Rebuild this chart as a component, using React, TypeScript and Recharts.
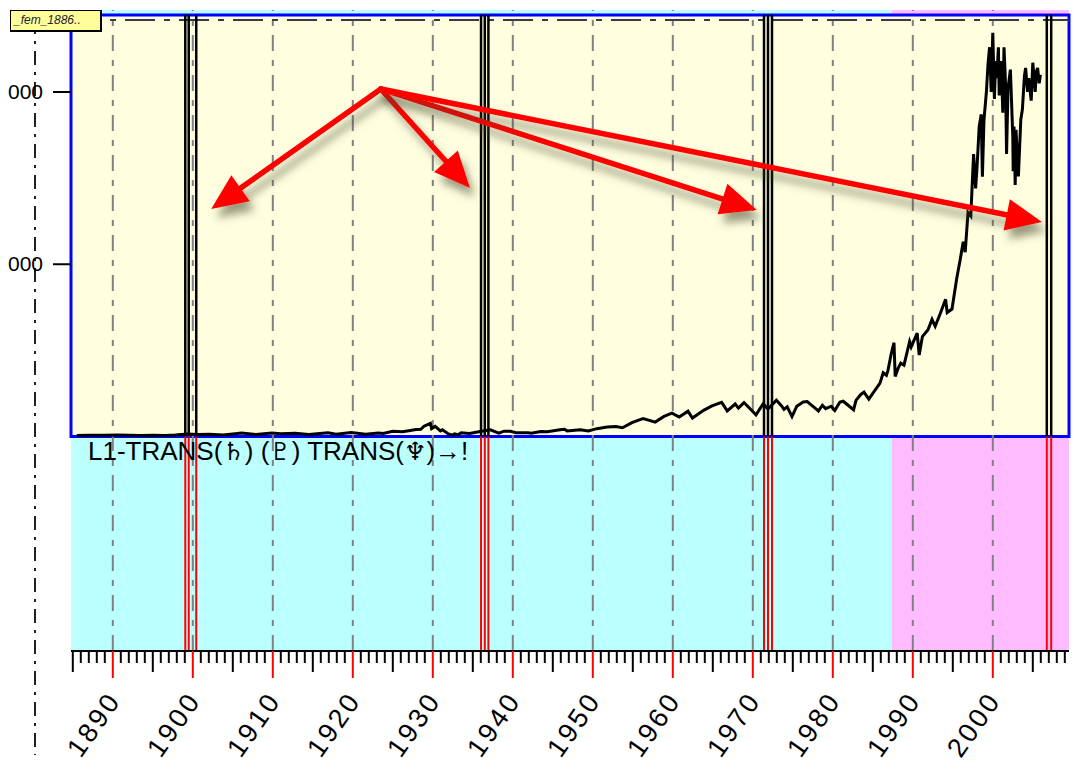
import React from 'react';
import { ComposedChart, Line, XAxis, YAxis, ReferenceArea, ReferenceLine } from 'recharts';

// ---- data ----
const years = [
  1885.5, 1887, 1889, 1890.5, 1892, 1893.5, 1895, 1896.6, 1897.8, 1899.3, 1900.7, 1902, 1903.8, 1905, 1906.1,
  1907.9, 1909.9, 1911, 1912.8, 1914.5, 1916.9, 1917.9, 1919.8, 1921.6, 1923.2, 1923.8, 1925, 1926.2, 1927,
  1927.9, 1928.5, 1928.9, 1929.7, 1929.85, 1930.3, 1930.95, 1931.2, 1931.95, 1932.5, 1932.7, 1933.2, 1933.55,
  1934.6, 1935.9, 1937.2, 1938.25, 1938.9, 1939.7, 1940.4, 1941.9, 1942.3, 1943.5, 1944.3, 1945.9, 1946.45,
  1946.8, 1948.4, 1949.45, 1950.5, 1951.8, 1952.9, 1953.7, 1954.9, 1955.9, 1956.3, 1957.8, 1958.9, 1959.9,
  1960.8, 1961.9, 1962.45, 1963.9, 1964.9, 1966.1, 1966.8, 1967.8, 1968.2, 1968.9, 1970.4, 1971.3, 1971.9,
  1972.95, 1973.6, 1973.9, 1974.3, 1974.9, 1975.5, 1976.3, 1976.8, 1977.9, 1978.2, 1978.7, 1979.1, 1979.8,
  1980.25, 1980.9, 1981.3, 1982.6, 1982.9, 1983.5, 1983.9, 1984.5, 1985.0, 1985.9, 1986.3, 1986.7, 1986.9,
  1987.3, 1987.65, 1987.8, 1988.2, 1988.5, 1988.9, 1989.6, 1989.8, 1990.55, 1990.8, 1991.2, 1991.9, 1992.4,
  1992.8, 1993.4, 1994.1, 1994.3, 1994.9, 1995.5, 1995.9, 1996.3, 1996.55, 1996.9, 1997.25, 1997.6, 1997.85,
  1998.0, 1998.3, 1998.55, 1998.7, 1998.9, 1999.2, 1999.4, 1999.6, 1999.8, 2000.0, 2000.2, 2000.35, 2000.5,
  2000.7, 2000.8, 2001.05, 2001.25, 2001.4, 2001.6, 2001.72, 2001.9, 2002.2, 2002.5, 2002.55, 2002.65, 2002.8,
  2002.9, 2003.2, 2003.5, 2003.7, 2003.95, 2004.1, 2004.35, 2004.5, 2004.8, 2005.0, 2005.3, 2005.45, 2005.6,
  2005.8, 2005.95,
];
const dowValues = [
  30, 34, 38, 42, 40, 30, 38, 30, 45, 75, 55, 66, 43, 75, 102,
  55, 100, 82, 93, 56, 110, 66, 118, 65, 103, 88, 150, 140, 170,
  200, 210, 300, 381, 230, 294, 160, 195, 75, 41, 80, 55, 108,
  88, 145, 194, 99, 155, 152, 112, 107, 93, 145, 137, 195, 212,
  163, 193, 162, 228, 276, 292, 255, 404, 488, 521, 419, 584, 680,
  566, 735, 535, 767, 891, 995, 744, 943, 825, 985, 631, 950, 798,
  1052, 887, 788, 860, 577, 880, 1000, 1014, 800, 742, 907, 810, 880,
  759, 1000, 1024, 777, 1050, 1220, 1287, 1087, 1250, 1550, 1850, 1780, 1920,
  2400, 2722, 1740, 2000, 2130, 2070, 2750, 2600, 2999, 2365, 2900, 3100, 3400,
  3200, 3550, 3980, 3600, 3700, 4600, 5100, 5650, 5350, 6500, 6400, 8200, 7200,
  7700, 9000, 9350, 7540, 9200, 10000, 10800, 11300, 10000, 11720, 9800, 10900, 10400,
  11300, 9900, 10900, 9400, 11300, 10200, 8200, 10100, 10650, 8700, 7700, 9000, 7300,
  8900, 7550, 9200, 9500, 10450, 10700, 10000, 10400, 9750, 10850, 10000, 10600, 10700,
  10250, 10500,
];
const decadeTicks = [1890, 1900, 1910, 1920, 1930, 1940, 1950, 1960, 1970, 1980, 1990, 2000];
const yTicks = [5000, 10000];
// only the last three digits of the value labels are visible in the picture
const yTickLabels = ['000', '000'];
const eventYears = [1899.06, 1899.49, 1900.43, 1936.03, 1936.5, 1936.95, 1971.4, 1971.9, 1972.4, 2006.75, 2007.3];
const arrowOrigin = { year: 1923.5, value: 10087 };
const arrowTargets = [
  { year: 1902.3, value: 6604 },
  { year: 1934.65, value: 7213 },
  { year: 1970.5, value: 6575 },
  { year: 2006.15, value: 6227 },
];
const phaseSplitYear = 1987.4;
const labelParts = ['L1-TRANS(', '\u2644', ') (', '\u2647', ') TRANS(', '\u2646', ')\u2192!'];
const boxText = '_fem_1886..';

// ---- axis ranges ----
const XMIN = 1884.775;
const XMAX = 2009.525;
const YMIN = -6226;
const YMAX = 12380;
const UPPER_TOP = 12235;
const TOP_DASH = 12090;
const DASHDOT_X = 1880.275;
const DASHDOT_Y1 = 12090;
const DASHDOT_Y2 = -9245;

const yearTicks: number[] = [];
for (let y = 1885; y <= 2009; y++) yearTicks.push(y);

const data = years.map((year, i) => ({ year, value: dowValues[i] }));

const FONT = '"Liberation Sans", Arial, sans-serif';

const XTick = (props: any) => {
  const { x, y, payload } = props;
  const v = payload.value as number;
  const dec = v % 10 === 0;
  const five = v % 5 === 0;
  const len = dec ? 27 : five ? 21 : 12;
  const tx = x - 32;
  const ty = y + 108;
  return (
    <g>
      <line x1={x} y1={y} x2={x} y2={y + len} stroke={dec ? '#ff0000' : '#000'} strokeWidth={2} />
      {dec && (
        <text
          x={tx}
          y={ty}
          transform={`rotate(-55, ${tx}, ${ty})`}
          fontFamily={FONT}
          fontSize={27}
          letterSpacing={3}
          fill="#000"
          textAnchor="start"
        >
          {String(v)}
        </text>
      )}
    </g>
  );
};

const YTick = (props: any) => {
  const { x, y, payload } = props;
  const i = yTicks.indexOf(payload.value);
  return (
    <g>
      <line x1={x - 18} y1={y} x2={x} y2={y} stroke="#000" strokeWidth={2} />
      <text x={x - 28} y={y + 7} textAnchor="end" fontFamily={FONT} fontSize={21} fill="#000">
        {yTickLabels[i]}
      </text>
    </g>
  );
};

const makeArrow = (idx: number) => (p: any) => {
  const { x1, y1, x2, y2 } = p;
  const dx = x2 - x1;
  const dy = y2 - y1;
  const len = Math.hypot(dx, dy) || 1;
  const ux = dx / len;
  const uy = dy / len;
  const px = -uy;
  const py = ux;
  const headLen = 36;
  const headW = 16;
  const bx = x2 - ux * headLen;
  const by = y2 - uy * headLen;
  const fid = `arrowShadow${idx}`;
  return (
    <g>
      <defs>
        <filter id={fid} x="-20%" y="-20%" width="140%" height="160%">
          <feDropShadow dx={5} dy={9} stdDeviation={4} floodColor="#4a4a30" floodOpacity={0.55} />
        </filter>
      </defs>
      <g filter={`url(#${fid})`}>
        <line x1={x1} y1={y1} x2={bx + ux * 2} y2={by + uy * 2} stroke="#ff0000" strokeWidth={5.5} strokeLinecap="round" />
        <polygon
          points={`${x2},${y2} ${bx + px * headW},${by + py * headW} ${bx - px * headW},${by - py * headW}`}
          fill="#ff0000"
        />
      </g>
    </g>
  );
};

export default function App() {
  return (
    <div style={{ position: 'absolute', left: 0, top: 0, width: 1074, height: 769, background: '#fff', overflow: 'hidden' }}>
      <ComposedChart width={1074} height={769} data={data} margin={{ top: 10, right: 5, bottom: 0, left: 0 }}>
        <XAxis
          type="number"
          dataKey="year"
          domain={[XMIN, XMAX]}
          allowDataOverflow
          ticks={yearTicks}
          interval={0}
          tick={XTick}
          tickLine={false}
          tickSize={0}
          tickMargin={0}
          height={118}
          axisLine={{ stroke: '#000', strokeWidth: 2 }}
        />
        <YAxis
          type="number"
          domain={[YMIN, YMAX]}
          allowDataOverflow
          ticks={yTicks}
          interval={0}
          tick={YTick}
          tickLine={false}
          tickSize={0}
          tickMargin={0}
          width={71}
          axisLine={false}
        />
        <ReferenceArea x1={XMIN} x2={phaseSplitYear} y1={YMIN} y2={YMAX} fill="#bbffff" fillOpacity={1} stroke="none" />
        <ReferenceArea x1={phaseSplitYear} x2={XMAX} y1={YMIN} y2={YMAX} fill="#ffbbff" fillOpacity={1} stroke="none" />
        <ReferenceArea x1={XMIN} x2={XMAX} y1={0} y2={UPPER_TOP} fill="#ffffe0" fillOpacity={1} stroke="#0000ff" strokeWidth={3} />
        {decadeTicks.map((d) => (
          <ReferenceLine key={`g${d}`} x={d} stroke="#808080" strokeWidth={2} strokeDasharray="16 9 6 9" />
        ))}
        <ReferenceLine y={TOP_DASH} stroke="#3a3a4a" strokeWidth={2} strokeDasharray="30 9 6 9" />
        {eventYears.map((e) => (
          <ReferenceLine key={`eb${e}`} segment={[{ x: e, y: 0 }, { x: e, y: UPPER_TOP }]} stroke="#000" strokeWidth={2.5} />
        ))}
        {eventYears.map((e) => (
          <ReferenceLine key={`er${e}`} segment={[{ x: e, y: YMIN }, { x: e, y: 0 }]} stroke="#ff0000" strokeWidth={2} />
        ))}
        <ReferenceLine
          segment={[{ x: DASHDOT_X, y: DASHDOT_Y1 }, { x: DASHDOT_X, y: DASHDOT_Y2 }]}
          ifOverflow="visible"
          stroke="#222"
          strokeWidth={2}
          strokeDasharray="14 7 3 7"
        />
        <Line dataKey="value" type="linear" stroke="#000" strokeWidth={3} dot={false} isAnimationActive={false} />
        {arrowTargets.map((t, i) => (
          <ReferenceLine
            key={`a${i}`}
            segment={[{ x: arrowOrigin.year, y: arrowOrigin.value }, { x: t.year, y: t.value }]}
            shape={makeArrow(i)}
          />
        ))}
      </ComposedChart>
      <div
        style={{
          position: 'absolute', left: 10, top: 10, width: 92, height: 22, background: '#ffff99',
          border: '1px solid #000', borderRightWidth: 2, borderBottomWidth: 2, boxSizing: 'border-box',
          fontFamily: FONT, fontStyle: 'italic', fontSize: 12, lineHeight: '18px', color: '#223', paddingLeft: 3,
          overflow: 'hidden', whiteSpace: 'nowrap',
        }}
      >
        {boxText}
      </div>
      <div
        style={{
          position: 'absolute', left: 88, top: 437, fontFamily: FONT, fontSize: 26, lineHeight: '29px', color: '#000',
          whiteSpace: 'nowrap',
        }}
      >
        {labelParts.map((s, i) =>
          i % 2 === 1 ? (
            <span key={i} style={{ fontFamily: '"DejaVu Sans", sans-serif', fontSize: 25 }}>{s}</span>
          ) : (
            <span key={i}>{s}</span>
          )
        )}
      </div>
    </div>
  );
}
